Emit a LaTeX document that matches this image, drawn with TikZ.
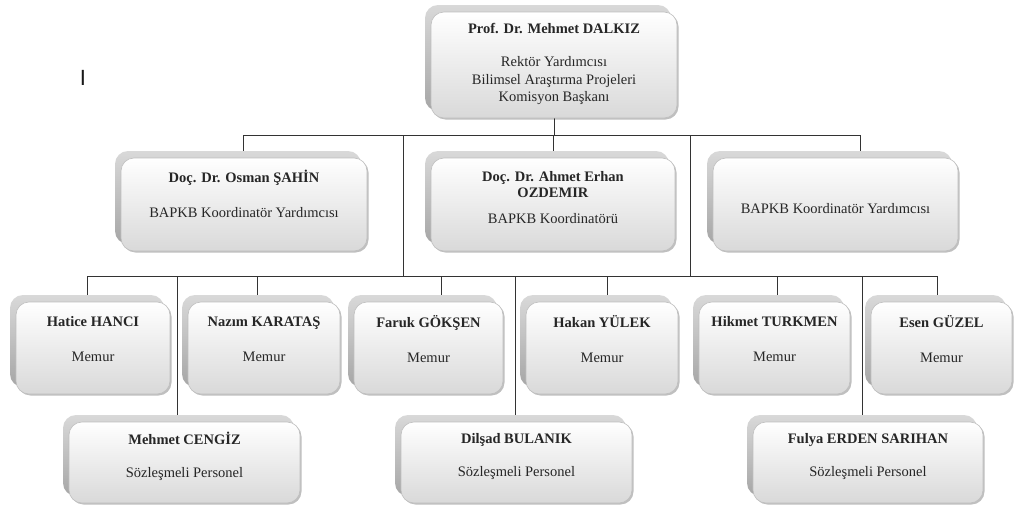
\documentclass[tikz,border=0pt]{standalone}
\usepackage{fontspec}
\setmainfont{Liberation Serif}
\setsansfont{Liberation Sans}
\usetikzlibrary{shadows,calc,backgrounds}
\newcommand\orgbox[6]{%
  \node[orgbox, minimum width=#3pt, minimum height=#4pt] (#1) at (#2) {};
  \node[orgtext] (#1t) at ($(#1.center)+(0,#5)$) {#6};}
\begin{document}
\begin{tikzpicture}[x=1pt,y=-1pt,
  orgbox/.style={rectangle, rounded corners=13pt, draw=gray!50, line width=0.6pt,
    top color=white, bottom color=gray!30, inner sep=0pt,
    general shadow={top color=gray!30, bottom color=gray!70, shadow xshift=-6pt, shadow yshift=7pt},
    drop shadow={shadow xshift=1.5pt, shadow yshift=-1.5pt, opacity=0.25, fill=black}},
  orgtext/.style={align=center, font=\fontsize{14.5}{17.5}\selectfont, inner sep=0pt, text=black!85},
  conn/.style={draw=black!80, line width=0.9pt}
]
\useasboundingbox (0,0) rectangle (1018,509);

% level 1
\orgbox{n0}{554,65}{246}{106}{-1}{\textbf{Prof. Dr. Mehmet DALKIZ}\\[15.5pt]Rektör Yardımcısı\\Bilimsel Araştırma Projeleri\\Komisyon Başkanı}
% level 2
\orgbox{n1}{244,204.5}{246}{93}{-11}{\textbf{Doç. Dr. Osman ŞAHİN}\\[17.5pt]BAPKB Koordinatör Yardımcısı}
\orgbox{n2}{553,204.5}{244}{93}{-7}{\textbf{Doç. Dr. Ahmet Erhan}\\[-1.5pt]\textbf{OZDEMIR}\\[8.5pt]BAPKB Koordinatörü}
\orgbox{n3}{835.5,204.5}{245}{93}{4.5}{BAPKB Koordinatör Yardımcısı}
% level 3
\orgbox{m1}{93,348}{154}{92}{-8.5}{\textbf{Hatice HANCI}\\[17.5pt]Memur}
\orgbox{m2}{264,348}{152}{92}{-8.5}{\textbf{Nazım KARATAŞ}\\[17.5pt]Memur}
\orgbox{m3}{428.5,348}{149}{92}{-8.5}{\textbf{Faruk GÖKŞEN}\\[17.5pt]Memur}
\orgbox{m4}{602,348}{152}{92}{-8.5}{\textbf{Hakan YÜLEK}\\[17.5pt]Memur}
\orgbox{m5}{774.5,348}{151}{92}{-8.5}{\textbf{Hikmet TURKMEN}\\[17.5pt]Memur}
\orgbox{m6}{941.5,348}{141}{92}{-8.5}{\textbf{Esen GÜZEL}\\[17.5pt]Memur}
% level 4
\orgbox{s1}{184.5,462.5}{231}{81}{-6}{\textbf{Mehmet CENGİZ}\\[15.5pt]Sözleşmeli Personel}
\orgbox{s2}{516.5,462.5}{231}{81}{-6}{\textbf{Dilşad BULANIK}\\[15.5pt]Sözleşmeli Personel}
\orgbox{s3}{868,462.5}{230}{81}{-6}{\textbf{Fulya ERDEN SARIHAN}\\[15.5pt]Sözleşmeli Personel}

\node[font=\sffamily\fontsize{22}{22}\selectfont, inner sep=0pt, text=black!90] (cursor) at (83,78) {I};

\begin{scope}[on background layer]
  \coordinate (b1L) at (243,135);
  \coordinate (b1R) at (860,135);
  \coordinate (j1) at (403,135);
  \coordinate (j2) at (690,135);
  \coordinate (b2L) at (87,276);
  \coordinate (b2R) at (937,276);
  \coordinate (d2) at (257,276);
  \coordinate (d3) at (441,276);
  \coordinate (d4) at (607,276);
  \coordinate (d5) at (777,276);
  \coordinate (e1) at (177,276);
  \coordinate (e2) at (515,276);
  \coordinate (e3) at (862,276);
  \draw[conn] (n0.south) -- (n0.south |- b1L);
  \draw[conn] (b1L) -- (b1R);
  \draw[conn] (b1L) -- (b1L |- n1.north);
  \draw[conn] (n2.north |- b1L) -- (n2.north);
  \draw[conn] (b1R) -- (b1R |- n3.north);
  \draw[conn] (j1) -- (j1 |- b2L);
  \draw[conn] (j2) -- (j2 |- b2L);
  \draw[conn] (b2L) -- (b2R);
  \draw[conn] (b2L) -- (b2L |- m1.north);
  \draw[conn] (d2) -- (d2 |- m2.north);
  \draw[conn] (d3) -- (d3 |- m3.north);
  \draw[conn] (d4) -- (d4 |- m4.north);
  \draw[conn] (d5) -- (d5 |- m5.north);
  \draw[conn] (b2R) -- (b2R |- m6.north);
  \draw[conn] (e1) -- (e1 |- s1.north);
  \draw[conn] (e2) -- (e2 |- s2.north);
  \draw[conn] (e3) -- (e3 |- s3.north);
\end{scope}
\end{tikzpicture}
\end{document}
